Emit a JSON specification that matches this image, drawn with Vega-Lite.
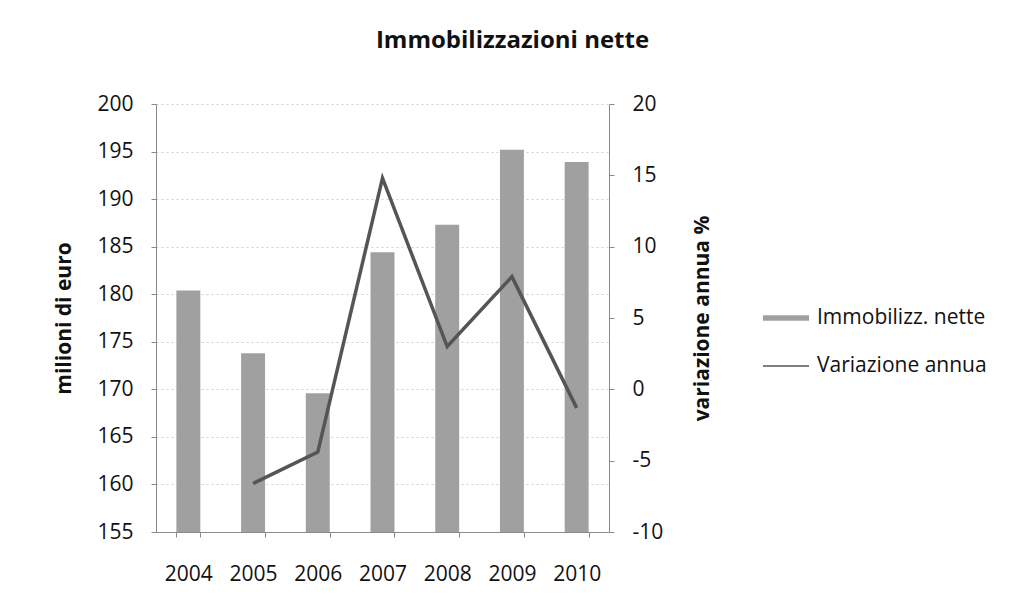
{
  "$schema": "https://vega.github.io/schema/vega-lite/v6.json",
  "autosize": "none",
  "width": 453,
  "height": 428,
  "padding": {"left": 156, "top": 104, "right": 408, "bottom": 77},
  "background": "#ffffff",
  "config": {
    "font": "Open Sans",
    "view": {"stroke": null},
    "axis": {
      "labelFont": "Open Sans",
      "labelFontSize": 21,
      "labelColor": "#111111",
      "titleFont": "Open Sans",
      "titleFontSize": 21,
      "titleFontWeight": "bold",
      "titleColor": "#111111",
      "domainColor": "#8a8a8a",
      "tickColor": "#8a8a8a",
      "tickSize": 5,
      "labelPadding": 18
    }
  },
  "title": {
    "text": "Immobilizzazioni nette",
    "font": "Open Sans",
    "fontSize": 24,
    "fontWeight": "bold",
    "color": "#111111",
    "anchor": "middle",
    "dx": 130,
    "offset": 40
  },
  "data": {
    "values": [
      {"anno": "2004", "immobilizz": 180.4, "variazione": null},
      {"anno": "2005", "immobilizz": 173.8, "variazione": -6.6},
      {"anno": "2006", "immobilizz": 169.6, "variazione": -4.4},
      {"anno": "2007", "immobilizz": 184.4, "variazione": 14.8},
      {"anno": "2008", "immobilizz": 187.3, "variazione": 3.0},
      {"anno": "2009", "immobilizz": 195.2, "variazione": 7.9},
      {"anno": "2010", "immobilizz": 193.9, "variazione": -1.3}
    ]
  },
  "encoding": {
    "x": {
      "field": "anno",
      "type": "ordinal",
      "scale": {"paddingInner": 0.63, "paddingOuter": 0.315},
      "axis": {"title": null, "labelAngle": 0, "grid": false, "labelPadding": 26, "tickBand": "extent"}
    }
  },
  "layer": [
    {
      "mark": {"type": "bar", "color": "#a0a0a0", "clip": true},
      "encoding": {
        "y": {
          "field": "immobilizz",
          "type": "quantitative",
          "scale": {"domain": [155, 200], "zero": false, "nice": false},
          "axis": {
            "title": "milioni di euro",
            "values": [155, 160, 165, 170, 175, 180, 185, 190, 195, 200],
            "grid": true,
            "gridColor": "#cfcfcf",
            "gridDash": [2, 3],
            "gridWidth": 1,
            "titlePadding": 22
          }
        },
        "color": {
          "datum": "Immobilizz. nette",
          "scale": {"domain": ["Immobilizz. nette", "Variazione annua"], "range": ["#a0a0a0", "#555555"]},
          "legend": {
            "title": null,
            "orient": "none",
            "legendX": 607,
            "legendY": 191,
            "labelFont": "Open Sans",
            "labelFontSize": 21,
            "labelColor": "#111111",
            "labelLimit": 400,
            "rowPadding": 15,
            "labelOffset": 8,
            "symbolSize": 2116,
            "symbolStrokeWidth": 0,
            "encode": {
              "symbols": {
                "update": {
                  "shape": {"signal": "datum.value === 'Immobilizz. nette' ? 'M-1,-0.12H1V0.12H-1Z' : 'M-1,-0.035H1V0.035H-1Z'"},
                  "fill": {"value": "#222222"},
                  "strokeWidth": {"value": 0}
                }
              }
            }
          }
        }
      }
    },
    {
      "mark": {"type": "line", "color": "#555555", "strokeWidth": 3.5},
      "transform": [{"filter": "datum.variazione != null"}],
      "encoding": {
        "y": {
          "field": "variazione",
          "type": "quantitative",
          "scale": {"domain": [-10, 20], "nice": false},
          "axis": {
            "title": "variazione annua %",
            "orient": "right",
            "values": [-10, -5, 0, 5, 10, 15, 20],
            "labelExpr": "replace(datum.label, '\u2212', '-')",
            "grid": false,
            "titleAngle": 270,
            "titlePadding": 50
          }
        },
        "color": {"datum": "Variazione annua"}
      }
    }
  ],
  "resolve": {"scale": {"y": "independent"}}
}
